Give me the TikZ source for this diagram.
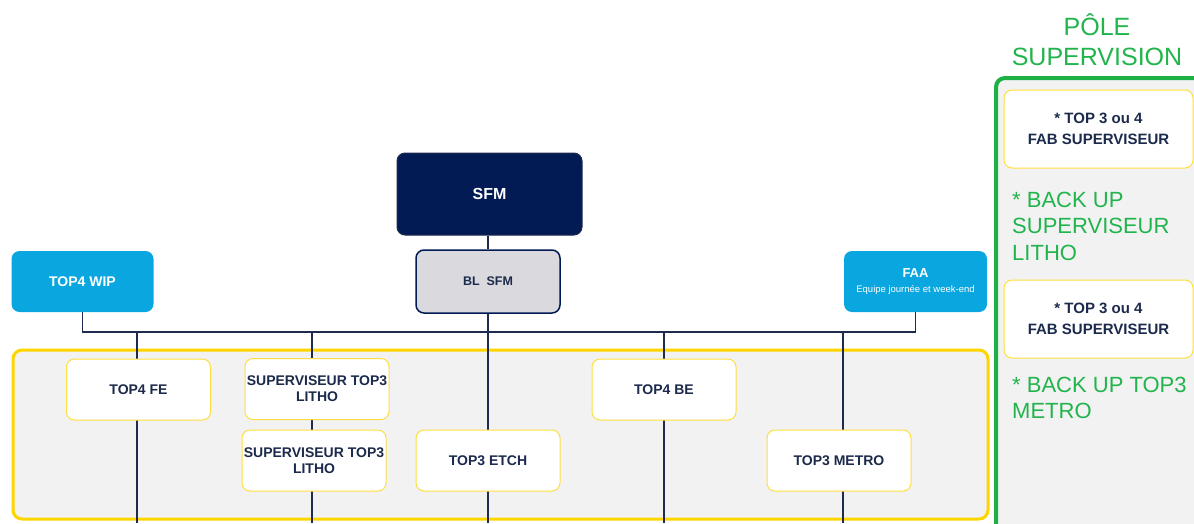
\documentclass[tikz,border=0pt]{standalone}
\usepackage{fontspec}
\setmainfont{Liberation Sans}
\usetikzlibrary{backgrounds}
\definecolor{navy}{HTML}{031B54}
\definecolor{linec}{HTML}{1E2B4E}
\definecolor{txtc}{HTML}{1C2A4C}
\definecolor{cyanb}{HTML}{0AA6DF}
\definecolor{blgray}{HTML}{D9D9DE}
\definecolor{ygold}{HTML}{FFD500}
\definecolor{ylight}{HTML}{FFDF40}
\definecolor{panel}{HTML}{F2F2F2}
\definecolor{gtxt}{HTML}{22B44C}
\definecolor{gborder}{HTML}{1DB044}
\tikzset{
  base/.style={rounded corners=8pt, inner sep=0pt, align=center, font=\bfseries\fontsize{14}{16}\selectfont},
  whitebox/.style={base, draw=ylight, line width=1pt, fill=white, text=txtc, minimum width=144pt, minimum height=61pt},
  cyanbox/.style={base, fill=cyanb, text=white, minimum width=142pt, minimum height=61pt},
  conn/.style={draw=linec, line width=1.5pt},
  gtext/.style={text=gtxt, align=left, inner sep=0pt, font=\fontsize{22}{26.5}\selectfont}
}
\begin{document}
\begin{tikzpicture}[x=1pt,y=-1pt]
\useasboundingbox (0,0) rectangle (1194,523);
% green panel
\begin{scope}
\clip (0,0) rectangle (1194,523);
\draw[draw=gborder, line width=4pt, fill=panel, rounded corners=9pt] (996,78) rectangle (1210,540);
\end{scope}
\node[text=gtxt, align=center, font=\fontsize{25}{30}\selectfont, inner sep=0pt] (title) at (1097,40) {PÔLE\\SUPERVISION};
\node[whitebox, minimum width=189pt, minimum height=78pt, font=\bfseries\fontsize{15}{21}\selectfont] (fab1) at (1098.5,129) {* TOP 3 ou 4\\FAB SUPERVISEUR};
\node[gtext, anchor=west] (bk1) at (1012,226) {* BACK UP\\SUPERVISEUR\\LITHO};
\node[whitebox, minimum width=189pt, minimum height=78pt, font=\bfseries\fontsize{15}{21}\selectfont] (fab2) at (1098.5,319) {* TOP 3 ou 4\\FAB SUPERVISEUR};
\node[gtext, anchor=west] (bk2) at (1012,398) {* BACK UP TOP3\\METRO};

% top boxes
\node[base, draw=linec, line width=1pt, fill=navy, text=white, minimum width=185pt, minimum height=82pt, font=\bfseries\fontsize{16}{18}\selectfont] (sfm) at (489.5,194) {SFM};
\node[base, draw=navy, line width=1.5pt, fill=blgray, text=txtc, minimum width=144pt, minimum height=63pt, font=\bfseries\fontsize{12.5}{15}\selectfont] (bl) at (488,281.5) {BL\ \ SFM};
\node[cyanbox] (wip) at (82.5,281.5) {TOP4 WIP};
\node[cyanbox, minimum width=143pt] (faa) at (915.5,281.5) {\fontsize{13}{15}\selectfont FAA\\[-1pt]{\mdseries\fontsize{9.5}{11}\selectfont Equipe journée et week-end}};

% inner boxes
\node[whitebox] (fe) at (138.5,389.5) {TOP4 FE};
\node[whitebox] (sup1) at (317,389) {SUPERVISEUR TOP3\\LITHO};
\node[whitebox] (sup2) at (314,460.5) {SUPERVISEUR TOP3\\LITHO};
\node[whitebox] (etch) at (488,460.5) {TOP3 ETCH};
\node[whitebox] (be) at (664,389.5) {TOP4 BE};
\node[whitebox] (metro) at (839,460.5) {TOP3 METRO};

% coordinates
\coordinate (busL) at (82.5,332);
\coordinate (busR) at (915.5,332);
\coordinate (t1) at (137,332);  \coordinate (b1) at (137,523);
\coordinate (t2) at (312,332);  \coordinate (b2) at (312,523);
\coordinate (b3) at (488,523);
\coordinate (t4) at (664,332);  \coordinate (b4) at (664,523);
\coordinate (t5) at (843,332);  \coordinate (b5) at (843,523);

\begin{scope}[on background layer]
\draw[draw=ygold, line width=3pt, fill=panel, rounded corners=9pt] (13,350) rectangle (988,519);
\draw[conn] (wip.south) -- (busL) -- (busR) -- (faa.south);
\draw[conn] (bl.north |- sfm.south) -- (bl.north);
\draw[conn] (bl.south) -- (b3);
\draw[conn] (t1) -- (b1);
\draw[conn] (t2) -- (b2);
\draw[conn] (t4) -- (b4);
\draw[conn] (t5) -- (b5);
\end{scope}
\end{tikzpicture}
\end{document}
